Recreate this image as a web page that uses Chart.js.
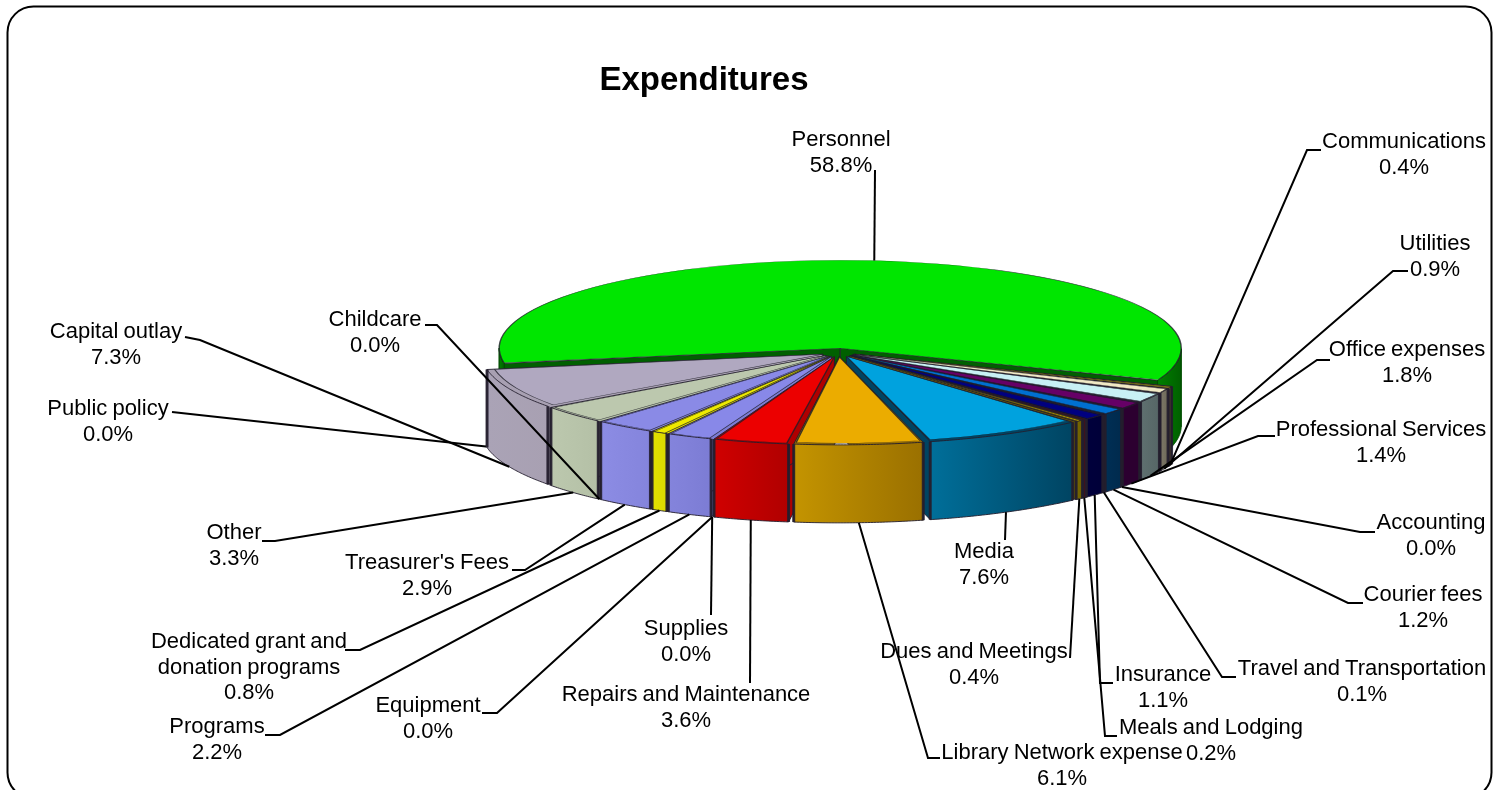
<!DOCTYPE html>
<html>
<head>
<meta charset="utf-8">
<title>Expenditures</title>
<script src="https://cdn.jsdelivr.net/npm/chart.js@4/dist/chart.umd.js"></script>
<style>
  html, body { margin: 0; padding: 0; background: #fff; overflow: hidden; }
  canvas { display: block; }
</style>
</head>
<body>
<canvas id="pie" width="1501" height="790"></canvas>
<script>
const categories = ["Personnel", "Communications", "Utilities", "Office expenses", "Professional Services",
  "Accounting", "Courier fees", "Travel and Transportation", "Insurance", "Meals and Lodging",
  "Dues and Meetings", "Media", "Library Network expense", "Repairs and Maintenance", "Supplies",
  "Equipment", "Programs", "Dedicated grant and|donation programs", "Treasurer's Fees", "Childcare",
  "Other", "Capital outlay", "Public policy"];
const values = [58.8, 0.4, 0.9, 1.8, 1.4, 0.0, 1.2, 0.1, 1.1, 0.2, 0.4, 7.6, 6.1, 3.6, 0.0, 0.0, 2.2, 0.8, 2.9, 0.0, 3.3, 7.3, 0.0];

const topColors = ["#00e600", "#e8d800", "#f0e8c4", "#c8f0f4", "#660066", "#808080", "#0070d0", "#404040", "#000080", "#8b0000",
  "#c8a800", "#00a2de", "#ebac00", "#ec0000", "#808080", "#808080", "#8888e8", "#eeea00", "#8a8ae6", "#808080", "#bcc8ae", "#b0a8c0", "#808080"];
const wallLeft = ["#008000", "#a08a30", "#7d7868", "#5f7070", "#2c0030", "#404040", "#002f55", "#202020", "#00003c", "#780000",
  "#7a6a00", "#006f9a", "#c49400", "#d00000", "#404040", "#404040", "#8484dc", "#e2e000", "#8c8ce4", "#404040", "#bcc8ae", "#aaa3b6", "#404040"];
const wallRight = ["#006000", "#907a20", "#6d6858", "#566666", "#2c0030", "#404040", "#002a4d", "#202020", "#000038", "#700000",
  "#6a5c00", "#004462", "#9a7000", "#b00000", "#404040", "#404040", "#7c7cd4", "#dcd800", "#8484dc", "#404040", "#b4c0a6", "#a8a0b2", "#404040"];

// label layout: centre x, middle y of first line, then the bend of the leader line
const labelX = [841, 1404, 1435, 1407, 1381, 1431, 1423, 1362, 1163, 1211, 974, 984, 1062, 686, 686, 428, 217, 249, 427, 375, 234, 116, 108];
const labelY = [140, 142, 244, 350, 430, 523, 595, 669, 675, 728, 652, 552, 753, 695, 629, 706, 727, 642, 563, 320, 533, 332, 409];
const leaderBends = [
  [[875, 170]], [[1321, 150], [1307, 150]], [[1408, 271], [1393, 271]], [[1330, 360], [1317, 360]], [[1275, 436], [1258, 436]],
  [[1375, 532], [1360, 532]], [[1363, 603], [1348, 603]], [[1236, 677], [1222, 677]], [[1113, 683], [1100, 683]], [[1117, 736], [1105, 736]],
  [[1070, 658]], [[1005, 540]], [[940, 758], [928, 758]], [[750, 683]], [[711, 615]],
  [[482, 713], [497, 713]], [[265, 735], [280, 735]], [[345, 650], [360, 650]], [[512, 570], [525, 570]], [[425, 325], [437, 325]],
  [[262, 541], [275, 541]], [[185, 337], [200, 340]], [[172, 412]]
];

const squash = 0.258;
const depth = 78;
const pieRadius = 324;
const explode = 68; // chart.js draws arcs moved by offset / 4 and grows them by the same
const labelFont = '22px "Liberation Sans", Arial, sans-serif';
const edgeDark = "rgba(35,30,45,0.9)";

function project(el, angle, r, h) {
  const mid = (el.startAngle + el.endAngle) / 2;
  const shift = explode / 4;
  return {
    x: el.x + Math.cos(mid) * shift + Math.cos(angle) * r,
    y: el.y + (Math.sin(mid) * shift + Math.sin(angle) * r) * squash + h
  };
}

function drawRadialWall(ctx, el, angle, color) {
  const a = project(el, angle, 0, 0);
  const b = project(el, angle, el.outerRadius + explode / 4, 0);
  ctx.beginPath();
  ctx.moveTo(a.x, a.y);
  ctx.lineTo(b.x, b.y);
  ctx.lineTo(b.x, b.y + depth);
  ctx.lineTo(a.x, a.y + depth);
  ctx.closePath();
  ctx.fillStyle = color;
  ctx.fill();
  ctx.strokeStyle = edgeDark;
  ctx.lineWidth = 1;
  ctx.stroke();
}

function drawRim(ctx, el, i) {
  const step = Math.PI / 360;
  const r = el.outerRadius + explode / 4;
  let run = [];
  const flush = () => {
    if (run.length < 2) { run = []; return; }
    const g = ctx.createLinearGradient(run[0].x, 0, run[run.length - 1].x, 0);
    const leftFirst = run[0].x < run[run.length - 1].x;
    g.addColorStop(0, leftFirst ? wallLeft[i] : wallRight[i]);
    g.addColorStop(1, leftFirst ? wallRight[i] : wallLeft[i]);
    ctx.beginPath();
    run.forEach((p, k) => k ? ctx.lineTo(p.x, p.y) : ctx.moveTo(p.x, p.y));
    for (let k = run.length - 1; k >= 0; k--) ctx.lineTo(run[k].x, run[k].y + depth);
    ctx.closePath();
    ctx.fillStyle = g;
    ctx.fill();
    ctx.strokeStyle = i === 0 ? "#004d00" : edgeDark;
    ctx.lineWidth = 1;
    ctx.stroke();
    // heavier dark seam on the two upright edges
    ctx.lineWidth = i === 0 ? 1 : 3;
    [run[0], run[run.length - 1]].forEach(p => {
      ctx.beginPath();
      ctx.moveTo(p.x, p.y);
      ctx.lineTo(p.x, p.y + depth);
      ctx.stroke();
    });
    run = [];
  };
  for (let a = el.startAngle; ; a += step) {
    const t = Math.min(a, el.endAngle);
    if (Math.sin(t) >= 0) run.push(project(el, t, r, 0));
    else flush();
    if (a >= el.endAngle) break;
  }
  flush();
}

const pie3d = {
  id: "pie3d",
  beforeDraw(chart) {
    const ctx = chart.ctx;
    ctx.save();
    ctx.fillStyle = "#fff";
    ctx.fillRect(0, 0, chart.width, chart.height);
    ctx.beginPath();
    ctx.roundRect(7.5, 6.5, 1484, 792, 26);
    ctx.strokeStyle = "#000";
    ctx.lineWidth = 2;
    ctx.stroke();
    ctx.fillStyle = "#000";
    ctx.font = 'bold 33px "Liberation Sans", Arial, sans-serif';
    ctx.textAlign = "center";
    ctx.textBaseline = "middle";
    ctx.fillText("Expenditures", 704, 81);
    ctx.restore();
  },
  beforeDatasetsDraw(chart) {
    const ctx = chart.ctx;
    const arcs = chart.getDatasetMeta(0).data;
    const order = arcs.map((el, i) => i).filter(i => values[i] > 0);
    order.sort((p, q) => Math.sin((arcs[p].startAngle + arcs[p].endAngle) / 2) - Math.sin((arcs[q].startAngle + arcs[q].endAngle) / 2));
    ctx.save();
    order.forEach(i => {
      const el = arcs[i];
      drawRadialWall(ctx, el, el.startAngle, wallRight[i]);
      drawRadialWall(ctx, el, el.endAngle, wallRight[i]);
      drawRim(ctx, el, i);
    });
    ctx.restore();
    // the flat tops are the library's own arcs, pressed into an ellipse
    const first = arcs[0];
    ctx.save();
    ctx.translate(first.x, first.y);
    ctx.scale(1, squash);
    ctx.translate(-first.x, -first.y);
  },
  afterDatasetsDraw(chart) {
    chart.ctx.restore();
  },
  afterDraw(chart) {
    const ctx = chart.ctx;
    const arcs = chart.getDatasetMeta(0).data;
    ctx.save();
    ctx.strokeStyle = "#000";
    ctx.lineWidth = 2;
    arcs.forEach((el, i) => {
      const mid = (el.startAngle + el.endAngle) / 2;
      const end = project(el, mid, el.outerRadius + explode / 4, Math.sin(mid) > 0 ? depth : 0);
      ctx.beginPath();
      leaderBends[i].forEach((p, k) => k ? ctx.lineTo(p[0], p[1]) : ctx.moveTo(p[0], p[1]));
      ctx.lineTo(end.x, end.y);
      ctx.stroke();
    });
    ctx.fillStyle = "#000";
    ctx.font = labelFont;
    ctx.wordSpacing = "-1px";
    ctx.textAlign = "center";
    ctx.textBaseline = "middle";
    categories.forEach((name, i) => {
      const lines = name.split("|").concat(values[i].toFixed(1) + "%");
      lines.forEach((line, k) => ctx.fillText(line, labelX[i], labelY[i] + k * 25.5));
    });
    ctx.restore();
  }
};

new Chart(document.getElementById("pie"), {
  type: "pie",
  data: {
    labels: categories,
    datasets: [{
      data: values,
      backgroundColor: topColors,
      borderColor: "rgba(30,30,40,0.8)",
      borderWidth: 1.5,
      offset: explode
    }]
  },
  options: {
    responsive: false,
    animation: false,
    rotation: -100,
    radius: pieRadius,
    layout: { padding: { left: 176, top: 0, right: 0, bottom: 85 } },
    plugins: { legend: { display: false }, title: { display: false }, tooltip: { enabled: false } },
    events: []
  },
  plugins: [pie3d]
});
</script>
</body>
</html>
